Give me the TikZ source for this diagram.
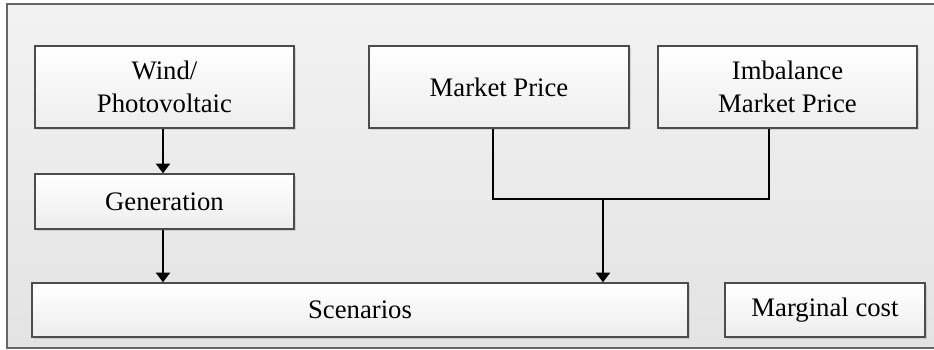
\documentclass[tikz,border=0pt]{standalone}
\usepackage{fontspec}
\setmainfont{Liberation Serif}
\usepackage{tikz}
\usetikzlibrary{arrows.meta,positioning,calc,shadows}

\begin{document}
\begin{tikzpicture}[
    x=0.02cm, y=-0.02cm,
    box/.style={rectangle, draw=black!70, line width=0.8pt, top color=white, bottom color=black!7, text centered, align=center, font=\fontsize{15.2}{18.5}\selectfont, inner sep=0pt, drop shadow={opacity=0.25, shadow xshift=1.2pt, shadow yshift=-1.2pt}},
    frame/.style={draw=black!60, line width=0.9pt, top color=black!5, bottom color=black!11},
    line/.style={line width=1.1pt, black},
    arrow/.style={line, -{Triangle[width=8pt,length=5.5pt]}}
]
    \clip (0,0) rectangle (934,349);
    % Background frame
    \draw[frame] (7,4) rectangle (950,348);

    % Generation side
    \node[box, minimum width=5.18cm, minimum height=1.64cm] (wind) at (164.5,87) {Wind/\\Photovoltaic};
    \node[box, minimum width=5.18cm, minimum height=1.1cm] (gen) at (164.5,201.5) {Generation};

    % Prices
    \node[box, minimum width=5.2cm, minimum height=1.64cm] (market) at (499,87) {Market Price};
    \node[box, minimum width=5.18cm, minimum height=1.64cm] (imb) at (787.5,87) {Imbalance\\Market Price};

    % Bottom row
    \node[box, minimum width=13.12cm, minimum height=1.08cm] (scen) at (360,310) {Scenarios};
    \node[box, minimum width=4cm, minimum height=1.08cm] (marg) at (825,310) {Marginal cost};

    % Arrows
    \draw[arrow] ([xshift=-0.03cm]wind.south) -- ([xshift=-0.03cm]gen.north);
    \draw[arrow] ([xshift=-0.03cm]gen.south) -- ([xshift=-0.03cm]gen.south |- scen.north);
    \coordinate (join) at (603,199);
    \draw[line] ([xshift=-0.12cm]market.south) |- (join) -| ([xshift=-0.37cm]imb.south);
    \draw[arrow] (join) -- (join |- scen.north);
\end{tikzpicture}
\end{document}
